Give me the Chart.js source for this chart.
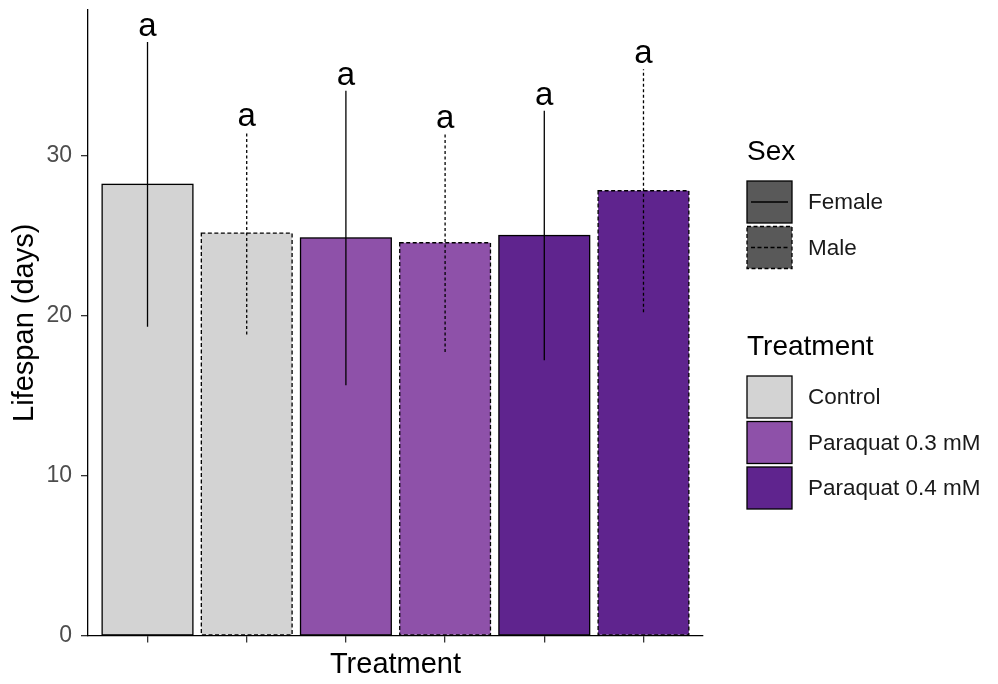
<!DOCTYPE html>
<html>
<head>
<meta charset="utf-8">
<title>Lifespan by treatment and sex</title>
<script src="https://cdn.jsdelivr.net/npm/chart.js@4.4.1/dist/chart.umd.min.js"></script>
<style>
  html, body { margin: 0; padding: 0; background: #ffffff; }
  #wrap { width: 998px; height: 684px; position: relative; }
</style>
</head>
<body>
<div id="wrap"><canvas id="chart" width="998" height="684"></canvas></div>
<script>
// ---- data ----
const barTreatment = ['Control', 'Control', 'Paraquat 0.3 mM', 'Paraquat 0.3 mM', 'Paraquat 0.4 mM', 'Paraquat 0.4 mM'];
const barSex = ['Female', 'Male', 'Female', 'Male', 'Female', 'Male'];
const lifespanMean = [28.2, 25.15, 24.85, 24.55, 25.0, 27.8];
const lifespanSD = [8.9, 6.33, 9.2, 6.83, 7.8, 7.6];
const groupLetters = ['a', 'a', 'a', 'a', 'a', 'a'];
const yTickValues = [0, 10, 20, 30];
const treatmentLevels = ['Control', 'Paraquat 0.3 mM', 'Paraquat 0.4 mM'];
const sexLevels = ['Female', 'Male'];

// ---- styling ----
const FONT = '"Liberation Sans", Arial, Helvetica, sans-serif';
const treatmentFill = {
  'Control': '#d3d3d3',
  'Paraquat 0.3 mM': '#8e51a9',
  'Paraquat 0.4 mM': '#5f248e'
};
const sexDash = { 'Female': [], 'Male': [4, 2.5] };
const errDash = { 'Female': [], 'Male': [3, 2.5] };
const LINE_W = 1.3;

const barPoints = lifespanMean.map((m, i) => ({ x: i + 1, y: m }));

// Bar outlines (solid / dashed by sex), SD whiskers and group letters
const barDecorations = {
  id: 'barDecorations',
  afterDatasetsDraw(chart) {
    const ctx = chart.ctx;
    const yScale = chart.scales.y;
    const meta = chart.getDatasetMeta(0);
    ctx.save();
    meta.data.forEach((bar, i) => {
      const p = bar.getProps(['x', 'y', 'base', 'width'], true);
      const left = p.x - p.width / 2;
      const sex = barSex[i];
      // outline
      ctx.strokeStyle = '#000';
      ctx.lineWidth = LINE_W;
      ctx.setLineDash(sexDash[sex]);
      ctx.strokeRect(left, p.y, p.width, p.base - p.y);
      // whisker
      const yHi = yScale.getPixelForValue(lifespanMean[i] + lifespanSD[i]);
      const yLo = yScale.getPixelForValue(lifespanMean[i] - lifespanSD[i]);
      ctx.setLineDash(errDash[sex]);
      ctx.beginPath();
      ctx.moveTo(p.x, yLo);
      ctx.lineTo(p.x, yHi);
      ctx.stroke();
      // letter
      ctx.setLineDash([]);
      ctx.fillStyle = '#000';
      ctx.font = '33px ' + FONT;
      ctx.textAlign = 'center';
      ctx.textBaseline = 'alphabetic';
      ctx.fillText(groupLetters[i], p.x, yHi - 6);
    });
    ctx.restore();
  }
};

// Two-part legend (Sex, Treatment) at the right
const sideLegend = {
  id: 'sideLegend',
  afterDraw(chart) {
    const ctx = chart.ctx;
    const x0 = 747, keyW = 45, keyH = 42, step = 45.5, labelX = 808;
    ctx.save();
    ctx.textAlign = 'left';
    ctx.textBaseline = 'middle';

    // Sex
    ctx.fillStyle = '#000';
    ctx.font = '28px ' + FONT;
    ctx.fillText('Sex', x0, 152);
    sexLevels.forEach((s, k) => {
      const y = 181 + k * step;
      ctx.fillStyle = '#595959';
      ctx.fillRect(x0, y, keyW, keyH);
      ctx.strokeStyle = '#000';
      ctx.lineWidth = LINE_W;
      ctx.setLineDash(sexDash[s]);
      ctx.strokeRect(x0, y, keyW, keyH);
      ctx.beginPath();
      ctx.moveTo(x0 + 4, y + keyH / 2);
      ctx.lineTo(x0 + keyW - 4, y + keyH / 2);
      ctx.stroke();
      ctx.setLineDash([]);
      ctx.fillStyle = '#1a1a1a';
      ctx.font = '22.5px ' + FONT;
      ctx.fillText(s, labelX, y + keyH / 2 + 1);
    });

    // Treatment
    ctx.fillStyle = '#000';
    ctx.font = '28px ' + FONT;
    ctx.fillText('Treatment', x0, 347);
    treatmentLevels.forEach((t, k) => {
      const y = 376 + k * step;
      ctx.fillStyle = treatmentFill[t];
      ctx.fillRect(x0, y, keyW, keyH);
      ctx.strokeStyle = '#000';
      ctx.lineWidth = LINE_W;
      ctx.setLineDash([]);
      ctx.strokeRect(x0, y, keyW, keyH);
      ctx.fillStyle = '#1a1a1a';
      ctx.font = '22.5px ' + FONT;
      ctx.fillText(t, labelX, y + keyH / 2 + 1);
    });
    ctx.restore();
  }
};

new Chart(document.getElementById('chart'), {
  type: 'bar',
  data: {
    datasets: [{
      data: barPoints,
      backgroundColor: barTreatment.map(t => treatmentFill[t]),
      borderWidth: 0,
      barPercentage: 0.915,
      categoryPercentage: 1.0
    }]
  },
  options: {
    responsive: false,
    animation: false,
    events: [],
    layout: { padding: { top: 10, right: 295, bottom: 0, left: 0 } },
    plugins: { legend: { display: false }, tooltip: { enabled: false } },
    scales: {
      x: {
        type: 'linear',
        min: 0.4,
        max: 6.6,
        offset: false,
        z: 1,
        afterBuildTicks: axis => { axis.ticks = barPoints.map(p => ({ value: p.x })); },
        afterFit: axis => { axis.height = 48.5; axis.paddingLeft = 0; axis.paddingRight = 0; },
        ticks: { display: false },
        grid: { offset: false, drawOnChartArea: false, drawTicks: true, tickLength: 7, color: '#333', lineWidth: LINE_W },
        border: { display: true, color: '#000', width: LINE_W },
        title: {
          display: true,
          text: 'Treatment',
          color: '#000',
          font: { family: FONT, size: 29, lineHeight: 1.2 },
          padding: { top: 0, bottom: 1.6 }
        }
      },
      y: {
        type: 'linear',
        min: 0,
        max: 39.1,
        z: 1,
        afterBuildTicks: axis => { axis.ticks = yTickValues.map(v => ({ value: v })); },
        afterFit: axis => { axis.width = 88; axis.paddingTop = 0; axis.paddingBottom = 0; },
        ticks: {
          color: '#4d4d4d',
          padding: 9,
          font: { family: FONT, size: 23 },
          callback: v => String(v)
        },
        grid: { drawOnChartArea: false, drawTicks: true, tickLength: 7, color: '#333', lineWidth: LINE_W },
        border: { display: true, color: '#000', width: LINE_W },
        title: {
          display: true,
          text: 'Lifespan (days)',
          color: '#000',
          font: { family: FONT, size: 29, lineHeight: 1.2 },
          padding: { top: 7.1, bottom: 0 }
        }
      }
    }
  },
  plugins: [barDecorations, sideLegend]
});
</script>
</body>
</html>
